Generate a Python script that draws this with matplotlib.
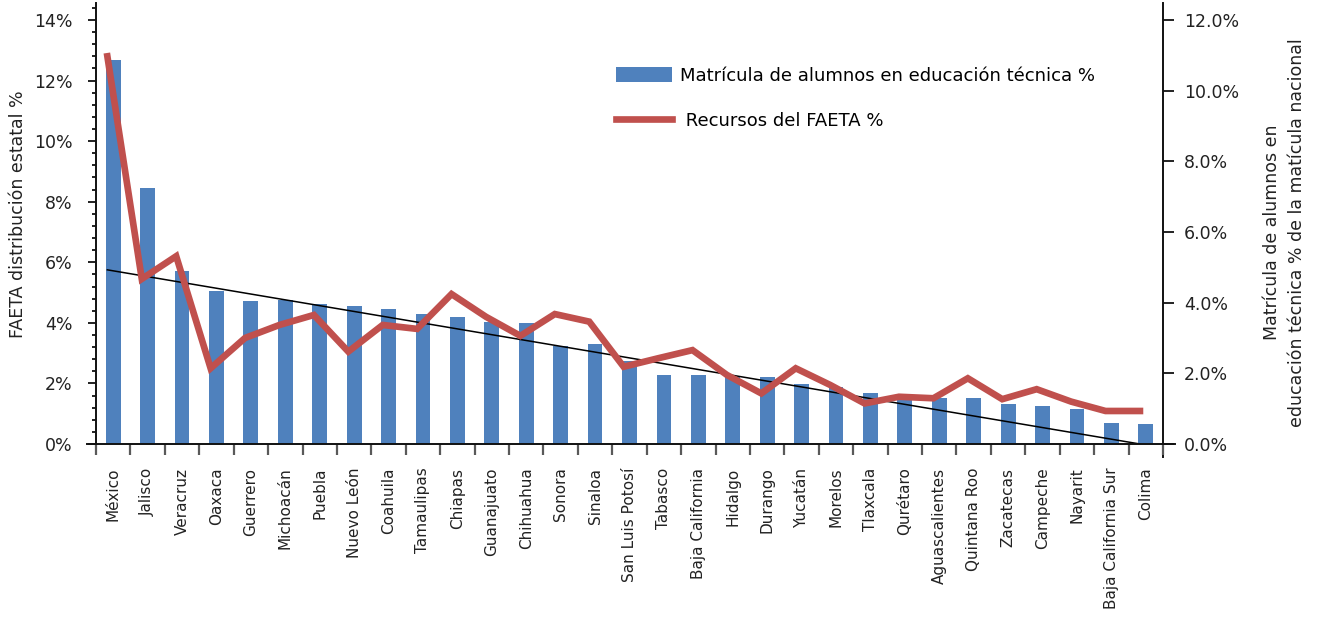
import numpy as np
import matplotlib
matplotlib.use("Agg")
import matplotlib.pyplot as plt
from matplotlib.ticker import FixedLocator, MultipleLocator, FuncFormatter

plt.rcParams['font.family'] = ['DejaVu Sans']

# states, ordered by enrolment share
estados = ["México", "Jalisco", "Veracruz", "Oaxaca", "Guerrero", "Michoacán", "Puebla",
           "Nuevo León", "Coahuila", "Tamaulipas", "Chiapas", "Guanajuato", "Chihuahua",
           "Sonora", "Sinaloa", "San Luis Potosí", "Tabasco", "Baja California", "Hidalgo",
           "Durango", "Yucatán", "Morelos", "Tlaxcala", "Qurétaro", "Aguascalientes",
           "Quintana Roo", "Zacatecas", "Campeche", "Nayarit", "Baja California Sur", "Colima"]

# enrolment in technical education, % of national enrolment (right axis)
matricula = [10.87, 7.24, 4.90, 4.34, 4.05, 4.08, 3.96, 3.91, 3.82, 3.68, 3.59, 3.45,
             3.42, 2.76, 2.83, 2.36, 1.95, 1.95, 1.90, 1.89, 1.70, 1.60, 1.44, 1.36,
             1.30, 1.30, 1.13, 1.08, 0.99, 0.59, 0.57]

# FAETA resources, % state distribution (left axis)
faeta = [12.8, 5.45, 6.2, 2.5, 3.5, 3.93, 4.26, 3.05, 3.93, 3.8, 4.95, 4.2, 3.57,
         4.29, 4.04, 2.55, 2.83, 3.1, 2.28, 1.67, 2.5, 1.95, 1.34, 1.56, 1.51, 2.17,
         1.48, 1.81, 1.4, 1.09, 1.09]

# straight trend line, start and end value on the left axis
tendencia = [5.75, 0.0]

azul = "#4F81BD"
rojo = "#C0504D"

n = len(estados)
x = np.arange(n)
x_linea = x - 0.17

fig = plt.figure(figsize=(13.27, 6.22), dpi=100)
ax = fig.add_axes([96 / 1327, 1 - 444 / 622, (1163 - 96) / 1327, 441 / 622])
ax2 = ax.twinx()

# bars on the secondary axis, line axis drawn on top
ax2.bar(x, matricula, width=0.43, color=azul, zorder=2,
        label="Matrícula de alumnos en educación técnica %")
ax.set_zorder(ax2.get_zorder() + 1)
ax.patch.set_visible(False)

ax.plot([x_linea[0], x_linea[-1]], tendencia, color="black", lw=1.1, zorder=2)
ax.plot(x_linea, faeta, color=rojo, lw=4.8, zorder=3, solid_joinstyle="miter",
        label=" Recursos del FAETA %")

ax.set_xlim(-0.5, n - 0.5)
ax.set_ylim(0, 14.56)
ax2.set_ylim(0, 14.56 * 12 / 14)

# left axis
ax.yaxis.set_major_locator(MultipleLocator(2))
ax.yaxis.set_minor_locator(MultipleLocator(0.4))
ax.yaxis.set_major_formatter(FuncFormatter(lambda v, p: f"{v:.0f}%"))
ax.tick_params(axis="y", which="major", length=6, width=1.4, pad=11, labelsize=12.5,
               colors="#222222")
ax.tick_params(axis="y", which="minor", length=3, width=1.4, color="#222222")

# right axis
ax2.yaxis.set_major_locator(MultipleLocator(2))
ax2.yaxis.set_major_formatter(FuncFormatter(lambda v, p: f"{v:.1f}%"))
ax2.tick_params(axis="y", length=8, width=1.4, pad=7, labelsize=12.5, colors="#222222")

# x axis: labels at centres, marks at boundaries
ax.set_xticks(x)
ax.set_xticklabels(estados, rotation=90, fontsize=11, color="#222222")
ax.tick_params(axis="x", which="major", length=0, pad=17)
ax.xaxis.set_minor_locator(FixedLocator(np.arange(n + 1) - 0.5))
ax.tick_params(axis="x", which="minor", length=8, width=1.6, color="#595959")
ax2.tick_params(axis="x", length=0)

for a in (ax, ax2):
    a.spines["top"].set_visible(False)
    for s in ("left", "right", "bottom"):
        a.spines[s].set_linewidth(1.4)
        a.spines[s].set_color("#111111")
ax.spines["right"].set_visible(False)
ax2.spines["left"].set_visible(False)
ax2.spines["bottom"].set_visible(False)
ax.spines["bottom"].set_bounds(-0.76, n - 0.15)
ax2.spines["right"].set_bounds(-0.37, 14.56 * 12 / 14)

ax.set_ylabel("FAETA distribución estatal %", fontsize=12.5, color="#222222")
ax.yaxis.set_label_coords(-0.065, 0.52)
ax2.set_ylabel("Matrícula de alumnos en\neducación técnica % de la matícula nacional",
               fontsize=12.5, color="#222222", rotation=90, linespacing=1.45)
ax2.yaxis.set_label_coords(1.094, 0.48)

h1, l1 = ax2.get_legend_handles_labels()
h2, l2 = ax.get_legend_handles_labels()
fig.legend(h1 + h2, l1 + l2, loc="upper left", bbox_to_anchor=(616 / 1327, 1 - 67 / 622),
           frameon=False, fontsize=13, handlelength=3.1, handleheight=0.9,
           handletextpad=0.45, labelspacing=1.5, borderpad=0, borderaxespad=0)

fig.savefig("out.png", dpi=100)
